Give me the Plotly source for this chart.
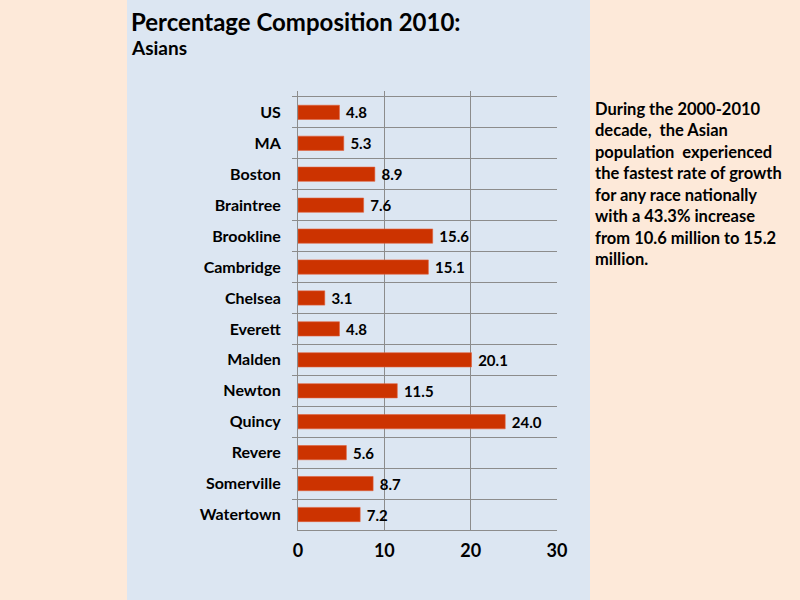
import plotly.graph_objects as go

places = ["US", "MA", "Boston", "Braintree", "Brookline", "Cambridge", "Chelsea",
          "Everett", "Malden", "Newton", "Quincy", "Revere", "Somerville", "Watertown"]
asian_pct = [4.8, 5.3, 8.9, 7.6, 15.6, 15.1, 3.1, 4.8, 20.1, 11.5, 24.0, 5.6, 8.7, 7.2]
x_ticks = [0, 10, 20, 30]

note = ("During the 2000-2010<br>decade,  the Asian<br>population  experienced<br>"
        "the fastest rate of growth<br>for any race nationally<br>with a 43.3% increase<br>"
        "from 10.6 million to 15.2<br>million.")

font = "Lato, 'Open Sans', sans-serif"
grid = "#8c8c8c"

fig = go.Figure(
    go.Bar(
        x=asian_pct,
        y=places,
        orientation="h",
        width=0.46,
        marker=dict(color="#CC3300", line=dict(color="#E0603A", width=0.6)),
        text=[f"{v:.1f}" for v in asian_pct],
        texttemplate=" %{text}",
        textposition="outside",
        constraintext="none",
        textfont=dict(family=font, size=15, color="black", weight="bold"),
        cliponaxis=False,
    )
)

# plot area: x 298-557, y 91-530 (pixels)
L, R, T, B = 298, 557, 91, 530
W, H = R - L, B - T

def px(x):
    return (x - L) / W

def py(y):
    return (B - y) / H

fig.add_shape(type="rect", xref="paper", yref="paper", layer="below",
              x0=px(127), x1=px(590), y0=py(600), y1=py(0),
              fillcolor="#DCE6F2", line=dict(width=0))

fig.add_annotation(xref="paper", yref="paper", x=px(129), y=py(5), xanchor="left", yanchor="top",
                   text="<b>Percentage Composition 2010:</b>", showarrow=False,
                   font=dict(family=font, size=24, color="black"))
fig.add_annotation(xref="paper", yref="paper", x=px(129), y=py(34), xanchor="left", yanchor="top",
                   text="<b>Asians</b>", showarrow=False,
                   font=dict(family=font, size=19, color="black"))
fig.add_annotation(xref="paper", yref="paper", x=px(593), y=py(97), xanchor="left", yanchor="top",
                   text=f"<b>{note}</b>", showarrow=False, align="left",
                   font=dict(family=font, size=16.5, color="black"))

fig.update_xaxes(
    range=[0, 30], tickvals=x_ticks, showgrid=True, gridcolor=grid, gridwidth=1,
    showline=True, linecolor=grid, linewidth=1, zeroline=False, ticks="",
    tickfont=dict(family=font, size=18, color="black", weight="bold"),
    ticklabelstandoff=4, fixedrange=True,
)
fig.update_yaxes(
    type="category", categoryorder="array", categoryarray=places,
    range=[13.5, -0.69], tickson="boundaries", ticks="outside", ticklen=5,
    tickcolor=grid, showgrid=True, gridcolor=grid, gridwidth=1,
    showline=True, linecolor=grid, linewidth=1,
    tickfont=dict(family=font, size=16, color="black", weight="bold"),
    ticklabelstandoff=13,
)

fig.update_layout(
    width=800, height=600,
    margin=dict(l=L, r=800 - R, t=T, b=600 - B, autoexpand=False),
    paper_bgcolor="#FDE9D9", plot_bgcolor="rgba(0,0,0,0)",
    showlegend=False,
)

fig.write_html("out.html", config={"displayModeBar": False},
               post_script="document.body.style.margin='0px';")
